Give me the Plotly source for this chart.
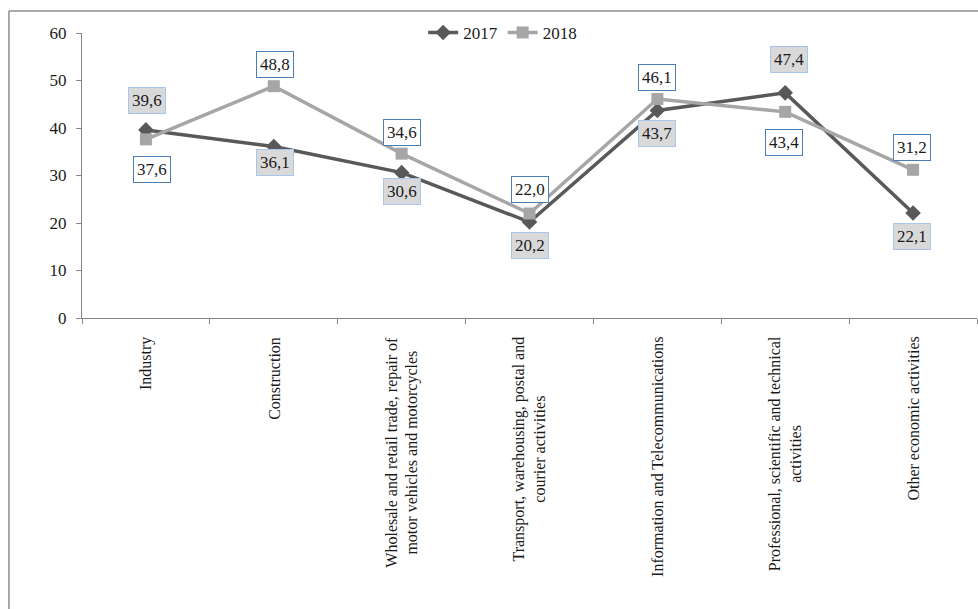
import plotly.graph_objects as go

categories = [
    "Industry",
    "Construction",
    "Wholesale and retail trade, repair of<br>motor vehicles and motorcycles",
    "Transport, warehousing, postal and<br>courier activities",
    "Information and Telecommunications",
    "Professional, scientific and technical<br>activities",
    "Other economic activities",
]
values_2017 = [39.6, 36.1, 30.6, 20.2, 43.7, 47.4, 22.1]
values_2018 = [37.6, 48.8, 34.6, 22.0, 46.1, 43.4, 31.2]
labels_2017 = ["39,6", "36,1", "30,6", "20,2", "43,7", "47,4", "22,1"]
labels_2018 = ["37,6", "48,8", "34,6", "22,0", "46,1", "43,4", "31,2"]

# label placement offsets (pixels) - styling only
shift_2017 = [29, -16, -19, -23, -23, 33, -23]
shift_2018 = [-30, 22, 21, 24, 22, -31, 22]
xshift_2017 = [1, 1, 0, 0, 0, 4, -1]
xshift_2018 = [6, 1, 0, 0, 0, -1, -1]

FONT = "Liberation Serif"
x = list(range(len(categories)))

fig = go.Figure()
fig.add_trace(go.Scatter(
    x=x, y=values_2017, mode="lines+markers", name="2017",
    line=dict(color="#595959", width=3.5),
    marker=dict(symbol="diamond", size=12, color="#595959"),
))
fig.add_trace(go.Scatter(
    x=x, y=values_2018, mode="lines+markers", name="2018",
    line=dict(color="#a6a6a6", width=3.5),
    marker=dict(symbol="square", size=12, color="#a6a6a6"),
))

annotations = []
for i in x:
    annotations.append(dict(
        x=i, y=values_2017[i], xref="x", yref="y", text=labels_2017[i],
        showarrow=False, yshift=shift_2017[i], xshift=xshift_2017[i],
        font=dict(family=FONT, size=17, color="#1a1a1a"),
        bgcolor="#d9d9d9", bordercolor="#a9c6ea", borderwidth=1, borderpad=3,
    ))
    annotations.append(dict(
        x=i, y=values_2018[i], xref="x", yref="y", text=labels_2018[i],
        showarrow=False, yshift=shift_2018[i], xshift=xshift_2018[i],
        font=dict(family=FONT, size=17, color="#1a1a1a"),
        bgcolor="#ffffff", bordercolor="#4a7ebb", borderwidth=1, borderpad=3,
    ))
    annotations.append(dict(
        x=i, y=-0.058, xref="x", yref="paper", text=categories[i],
        showarrow=False, textangle=-90, xanchor="center", yanchor="top",
        align="center", font=dict(family=FONT, size=16, color="#1a1a1a"),
    ))

fig.update_layout(
    width=978, height=609,
    margin=dict(l=82, r=1, t=33, b=291),
    paper_bgcolor="white", plot_bgcolor="white",
    font=dict(family=FONT, size=17, color="#1a1a1a"),
    showlegend=True,
    legend=dict(orientation="h", x=0.47, y=1.0, xanchor="center", yanchor="middle",
                bgcolor="rgba(0,0,0,0)", font=dict(family=FONT, size=17),
                itemwidth=30),
    annotations=annotations,
    shapes=[
        dict(type="line", xref="paper", yref="paper", x0=-0.0816, x1=1.02,
             y0=1.0772, y1=1.0772, line=dict(color="#8c8c8c", width=1.5)),
        dict(type="line", xref="paper", yref="paper", x0=-0.0816, x1=-0.0816,
             y0=1.0772, y1=-1.2, line=dict(color="#8c8c8c", width=1.5)),
    ],
)
fig.update_xaxes(
    type="linear", range=[-0.5, 6.5], tickmode="array",
    tickvals=[i - 0.5 for i in range(len(categories) + 1)],
    showticklabels=False, ticks="outside", ticklen=5, tickcolor="#868686",
    showline=True, linecolor="#868686", linewidth=1, showgrid=False, zeroline=False,
)
fig.update_yaxes(
    range=[0, 60], dtick=10, ticks="outside", ticklen=5, tickcolor="#868686",
    showline=True, linecolor="#868686", linewidth=1, showgrid=False, zeroline=False,
    tickfont=dict(family=FONT, size=17, color="#1a1a1a"), ticklabelstandoff=6,
)

fig.write_html("out.html")
